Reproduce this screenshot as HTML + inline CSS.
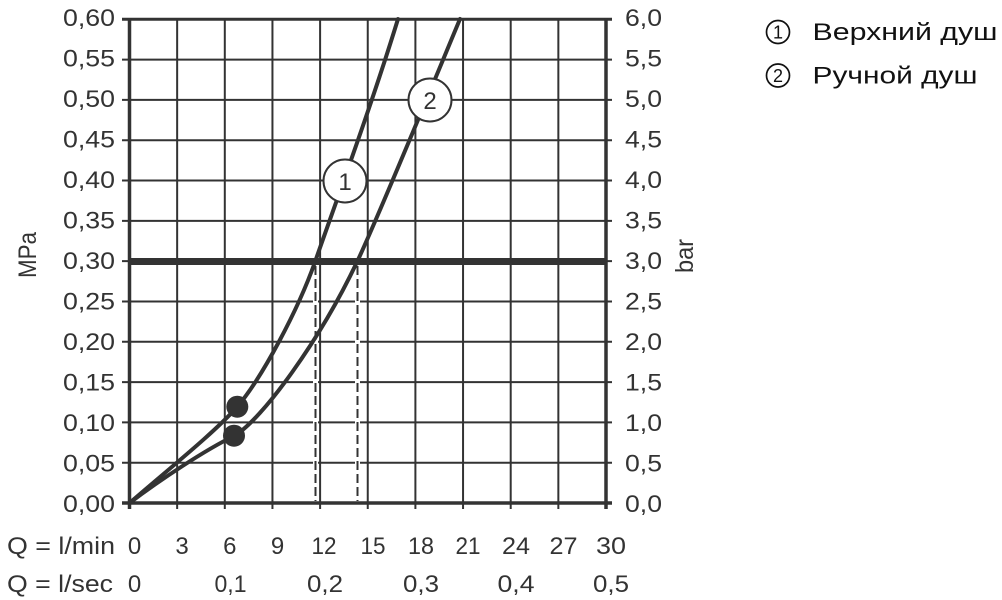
<!DOCTYPE html>
<html><head><meta charset="utf-8"><style>
html,body{margin:0;padding:0;background:#fff;}
svg{display:block;}
text{font-family:"Liberation Sans","DejaVu Sans",sans-serif;fill:#333;}
</style></head><body>
<svg width="1002" height="600" viewBox="0 0 1002 600" xmlns="http://www.w3.org/2000/svg">
<rect width="1002" height="600" fill="#fff"/>
<g stroke="#333" stroke-width="2" fill="none">
<line x1="177.15" y1="19.3" x2="177.15" y2="509"/>
<line x1="224.8" y1="19.3" x2="224.8" y2="509"/>
<line x1="272.45" y1="19.3" x2="272.45" y2="509"/>
<line x1="320.1" y1="19.3" x2="320.1" y2="509"/>
<line x1="367.75" y1="19.3" x2="367.75" y2="509"/>
<line x1="415.4" y1="19.3" x2="415.4" y2="509"/>
<line x1="463.05" y1="19.3" x2="463.05" y2="509"/>
<line x1="510.7" y1="19.3" x2="510.7" y2="509"/>
<line x1="558.35" y1="19.3" x2="558.35" y2="509"/>
<line x1="122" y1="59.61" x2="612" y2="59.61"/>
<line x1="122" y1="99.92" x2="612" y2="99.92"/>
<line x1="122" y1="140.23" x2="612" y2="140.23"/>
<line x1="122" y1="180.54" x2="612" y2="180.54"/>
<line x1="122" y1="220.85" x2="612" y2="220.85"/>
<line x1="122" y1="261.16" x2="612" y2="261.16"/>
<line x1="122" y1="301.47" x2="612" y2="301.47"/>
<line x1="122" y1="341.78" x2="612" y2="341.78"/>
<line x1="122" y1="382.09" x2="612" y2="382.09"/>
<line x1="122" y1="422.4" x2="612" y2="422.4"/>
<line x1="122" y1="462.71" x2="612" y2="462.71"/>
<line x1="122" y1="19.3" x2="612" y2="19.3" stroke-width="3"/>
<line x1="122" y1="503.02" x2="612" y2="503.02" stroke-width="3.5"/>
<line x1="129.5" y1="18" x2="129.5" y2="509" stroke-width="3.5"/>
<line x1="606" y1="18" x2="606" y2="509" stroke-width="3.5"/>
</g>
<g fill="none">
<line x1="315.5" y1="266" x2="315.5" y2="501" stroke="#fff" stroke-width="5"/>
<line x1="357.5" y1="266" x2="357.5" y2="501" stroke="#fff" stroke-width="5"/>
<line x1="315.5" y1="266" x2="315.5" y2="501" stroke="#333" stroke-width="2" stroke-dasharray="9,4"/>
<line x1="357.5" y1="266" x2="357.5" y2="501" stroke="#333" stroke-width="2" stroke-dasharray="9,4"/>
</g>
<g fill="none" stroke="#333" stroke-width="4" stroke-linejoin="round" stroke-linecap="round">
<path d="M129.5,503 C170,468 215,432 237,407 C262,378 298,310 315,262 C333,210 370,110 398,19"/>
<path d="M129.5,503 C160,480 205,450 234,436 C262,420 320,340 357,262 C377,220 442,62 460,19"/>
</g>
<line x1="129.5" y1="261.5" x2="606" y2="261.5" stroke="#333" stroke-width="7"/>
<circle cx="237.3" cy="406.7" r="11" fill="#333"/>
<circle cx="234" cy="435.7" r="11" fill="#333"/>
<circle cx="345" cy="181" r="21.5" fill="#fff" stroke="#333" stroke-width="2"/>
<text x="345" y="190" font-size="24" text-anchor="middle">1</text>
<circle cx="430" cy="100" r="21.5" fill="#fff" stroke="#333" stroke-width="2"/>
<text x="430" y="109" font-size="24" text-anchor="middle">2</text>
<g font-size="24" text-anchor="end">
<text x="115" y="26" textLength="52" lengthAdjust="spacingAndGlyphs">0,60</text>
<text x="115" y="66.5" textLength="52" lengthAdjust="spacingAndGlyphs">0,55</text>
<text x="115" y="107" textLength="52" lengthAdjust="spacingAndGlyphs">0,50</text>
<text x="115" y="147.5" textLength="52" lengthAdjust="spacingAndGlyphs">0,45</text>
<text x="115" y="188" textLength="52" lengthAdjust="spacingAndGlyphs">0,40</text>
<text x="115" y="228.5" textLength="52" lengthAdjust="spacingAndGlyphs">0,35</text>
<text x="115" y="269" textLength="52" lengthAdjust="spacingAndGlyphs">0,30</text>
<text x="115" y="309.5" textLength="52" lengthAdjust="spacingAndGlyphs">0,25</text>
<text x="115" y="350" textLength="52" lengthAdjust="spacingAndGlyphs">0,20</text>
<text x="115" y="390.5" textLength="52" lengthAdjust="spacingAndGlyphs">0,15</text>
<text x="115" y="431" textLength="52" lengthAdjust="spacingAndGlyphs">0,10</text>
<text x="115" y="471.5" textLength="52" lengthAdjust="spacingAndGlyphs">0,05</text>
<text x="115" y="512" textLength="52" lengthAdjust="spacingAndGlyphs">0,00</text>
</g>
<g font-size="24">
<text x="625" y="26" textLength="37" lengthAdjust="spacingAndGlyphs">6,0</text>
<text x="625" y="66.5" textLength="37" lengthAdjust="spacingAndGlyphs">5,5</text>
<text x="625" y="107" textLength="37" lengthAdjust="spacingAndGlyphs">5,0</text>
<text x="625" y="147.5" textLength="37" lengthAdjust="spacingAndGlyphs">4,5</text>
<text x="625" y="188" textLength="37" lengthAdjust="spacingAndGlyphs">4,0</text>
<text x="625" y="228.5" textLength="37" lengthAdjust="spacingAndGlyphs">3,5</text>
<text x="625" y="269" textLength="37" lengthAdjust="spacingAndGlyphs">3,0</text>
<text x="625" y="309.5" textLength="37" lengthAdjust="spacingAndGlyphs">2,5</text>
<text x="625" y="350" textLength="37" lengthAdjust="spacingAndGlyphs">2,0</text>
<text x="625" y="390.5" textLength="37" lengthAdjust="spacingAndGlyphs">1,5</text>
<text x="625" y="431" textLength="37" lengthAdjust="spacingAndGlyphs">1,0</text>
<text x="625" y="471.5" textLength="37" lengthAdjust="spacingAndGlyphs">0,5</text>
<text x="625" y="512" textLength="37" lengthAdjust="spacingAndGlyphs">0,0</text>
</g>
<text transform="translate(36,255) rotate(-90)" font-size="25" text-anchor="middle" textLength="46" lengthAdjust="spacingAndGlyphs">MPa</text>
<text transform="translate(693,256) rotate(-90)" font-size="25" text-anchor="middle" textLength="34" lengthAdjust="spacingAndGlyphs">bar</text>
<g font-size="24" text-anchor="middle">
<text x="61" y="554" textLength="108" lengthAdjust="spacingAndGlyphs">Q = l/min</text>
<text x="134.5" y="554">0</text>
<text x="182" y="554">3</text>
<text x="229.8" y="554">6</text>
<text x="277.5" y="554">9</text>
<text x="324" y="554" textLength="25" lengthAdjust="spacingAndGlyphs">12</text>
<text x="373" y="554" textLength="25" lengthAdjust="spacingAndGlyphs">15</text>
<text x="421" y="554" textLength="26" lengthAdjust="spacingAndGlyphs">18</text>
<text x="468" y="554" textLength="25" lengthAdjust="spacingAndGlyphs">21</text>
<text x="516" y="554" textLength="28" lengthAdjust="spacingAndGlyphs">24</text>
<text x="563.5" y="554" textLength="28" lengthAdjust="spacingAndGlyphs">27</text>
<text x="611" y="554" textLength="30" lengthAdjust="spacingAndGlyphs">30</text>
</g>
<g font-size="24" text-anchor="middle">
<text x="60" y="592" textLength="106" lengthAdjust="spacingAndGlyphs">Q = l/sec</text>
<text x="134.5" y="592">0</text>
<text x="230.5" y="592" textLength="32" lengthAdjust="spacingAndGlyphs">0,1</text>
<text x="325" y="592" textLength="36" lengthAdjust="spacingAndGlyphs">0,2</text>
<text x="421" y="592" textLength="36" lengthAdjust="spacingAndGlyphs">0,3</text>
<text x="516" y="592" textLength="37" lengthAdjust="spacingAndGlyphs">0,4</text>
<text x="611" y="592" textLength="36" lengthAdjust="spacingAndGlyphs">0,5</text>
</g>
<g>
<circle cx="778" cy="32" r="11.5" fill="none" stroke="#111" stroke-width="1.7"/>
<text x="778" y="38.5" font-size="18" text-anchor="middle" style="fill:#111">1</text>
<text x="812.5" y="40" font-size="24" textLength="185" lengthAdjust="spacingAndGlyphs" style="fill:#111">Верхний душ</text>
<circle cx="778" cy="75.5" r="11.5" fill="none" stroke="#111" stroke-width="1.7"/>
<text x="778" y="82" font-size="18" text-anchor="middle" style="fill:#111">2</text>
<text x="812.5" y="83.5" font-size="24" textLength="165" lengthAdjust="spacingAndGlyphs" style="fill:#111">Ручной душ</text>
</g>
</svg>
</body></html>
